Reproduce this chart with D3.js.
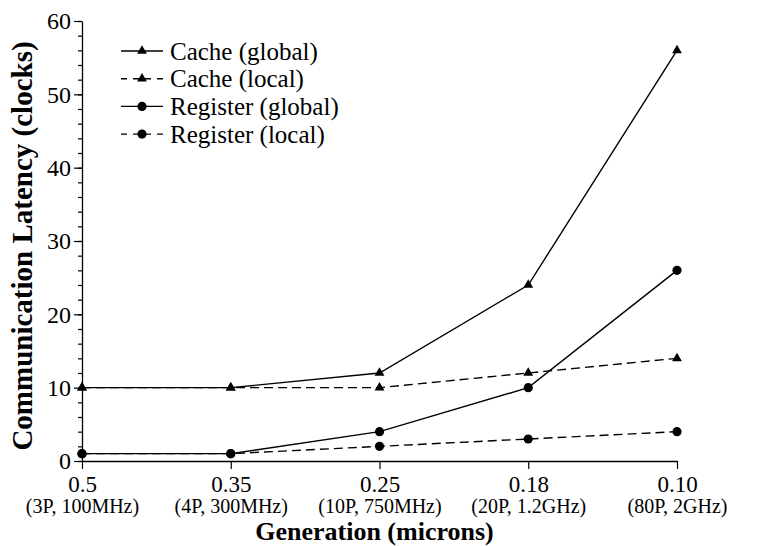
<!DOCTYPE html>
<meta charset="utf-8">
<script src="https://d3js.org/d3.v7.min.js"></script>
<body>
<script>
  var generations = ["0.5", "0.35", "0.25", "0.18", "0.10"];
  var configs = ["(3P, 100MHz)", "(4P, 300MHz)", "(10P, 750MHz)", "(20P, 1.2GHz)", "(80P, 2GHz)"];
  var cacheGlobal = [10, 10, 12, 24, 56];
  var cacheLocal = [10, 10, 10, 12, 14];
  var registerGlobal = [1, 1, 4, 10, 26];
  var registerLocal = [1, 1, 2, 3, 4];
  var yTicks = [0, 10, 20, 30, 40, 50, 60];

  var series = [
    {name: "Cache (global)", values: cacheGlobal, dashed: false, marker: "tri"},
    {name: "Cache (local)", values: cacheLocal, dashed: true, marker: "tri"},
    {name: "Register (global)", values: registerGlobal, dashed: false, marker: "dot"},
    {name: "Register (local)", values: registerLocal, dashed: true, marker: "dot"}
  ];

  var FONT = "Liberation Serif, Times New Roman, serif";
  var W = 766, H = 546;
  var margin = {left: 82, right: 89, top: 21, bottom: 85};
  var width = W - margin.left - margin.right,
      height = H - margin.top - margin.bottom;

  d3.select("body").style("margin", "0px");

  var svg = d3.select("body").append("svg")
    .attr("width", W)
    .attr("height", H)
    .attr("font-family", FONT);

  var g = svg.append("g")
    .attr("transform", "translate(" + margin.left + "," + margin.top + ")");

  var x = d3.scalePoint().domain(d3.range(generations.length)).range([0, width]);
  var y = d3.scaleLinear().domain([0, 60]).range([height, 0]);

  // minor y ticks
  g.append("g")
    .call(d3.axisLeft(y).tickValues(d3.range(0, 61, 2)).tickSize(4).tickFormat(""))
    .call(function (a) { a.select(".domain").remove(); })
    .selectAll("line").attr("stroke", "#000").attr("stroke-width", 1.2);

  var yAxisG = g.append("g")
    .call(d3.axisLeft(y).tickValues(yTicks).tickSize(8).tickSizeOuter(0).tickPadding(3))
    .attr("font-family", FONT)
    .attr("font-size", 24);
  yAxisG.select(".domain").attr("stroke", "#000").attr("stroke-width", 1.3);
  yAxisG.selectAll("line").attr("stroke", "#000").attr("stroke-width", 1.2);
  yAxisG.selectAll("text").attr("dy", "0.33em");

  var xAxisG = g.append("g")
    .attr("transform", "translate(0," + height + ")")
    .call(d3.axisBottom(x).tickSize(8).tickSizeOuter(0).tickPadding(7)
      .tickFormat(function (i) { return generations[i]; }))
    .attr("font-family", FONT)
    .attr("font-size", 23);
  xAxisG.select(".domain").attr("stroke", "#000").attr("stroke-width", 1.3);
  xAxisG.selectAll("line").attr("stroke", "#000").attr("stroke-width", 1.2);
  xAxisG.selectAll(".tick").append("text")
    .attr("y", 52)
    .attr("text-anchor", "middle")
    .attr("fill", "#000")
    .attr("font-size", 20)
    .text(function (i) { return configs[i]; });

  // axis titles
  svg.append("text")
    .attr("x", margin.left + width / 2 - 5)
    .attr("y", 540)
    .attr("text-anchor", "middle")
    .attr("font-size", 26)
    .attr("font-weight", "bold")
    .text("Generation (microns)");

  svg.append("text")
    .attr("transform", "translate(32,246) rotate(-90)")
    .attr("text-anchor", "middle")
    .attr("font-size", 29)
    .attr("font-weight", "bold")
    .text("Communication Latency (clocks)");

  var line = d3.line()
    .x(function (d, i) { return x(i); })
    .y(function (d) { return y(d); });

  var tri = d3.symbol().type(d3.symbolTriangle).size(42);

  function drawMarker(sel, type) {
    if (type === "tri") {
      sel.append("path").attr("d", tri).attr("fill", "#000");
    } else {
      sel.append("circle").attr("r", 4.6).attr("fill", "#000");
    }
  }

  series.forEach(function (s) {
    g.append("path")
      .attr("d", line(s.values))
      .attr("fill", "none")
      .attr("stroke", "#000")
      .attr("stroke-width", 1.4)
      .attr("stroke-dasharray", s.dashed ? "9,5" : null);

    g.selectAll(null)
      .data(s.values)
      .enter().append("g")
      .attr("transform", function (d, i) { return "translate(" + x(i) + "," + y(d) + ")"; })
      .each(function () { drawMarker(d3.select(this), s.marker); });
  });

  // legend
  var legend = svg.append("g").attr("transform", "translate(121,51)");
  var rows = legend.selectAll("g").data(series).enter().append("g")
    .attr("transform", function (d, i) { return "translate(0," + (i * 27.7) + ")"; });
  rows.append("line")
    .attr("x1", 0).attr("x2", 42)
    .attr("stroke", "#000")
    .attr("stroke-width", 1.4)
    .attr("stroke-dasharray", function (d) { return d.dashed ? "6,6" : null; });
  rows.each(function (d) {
    var m = d3.select(this).append("g").attr("transform", "translate(21,0)");
    drawMarker(m, d.marker);
  });
  rows.append("text")
    .attr("x", 49)
    .attr("dy", "0.35em")
    .attr("fill", "#000")
    .attr("font-size", 25)
    .text(function (d) { return d.name; });
</script>
</body>
